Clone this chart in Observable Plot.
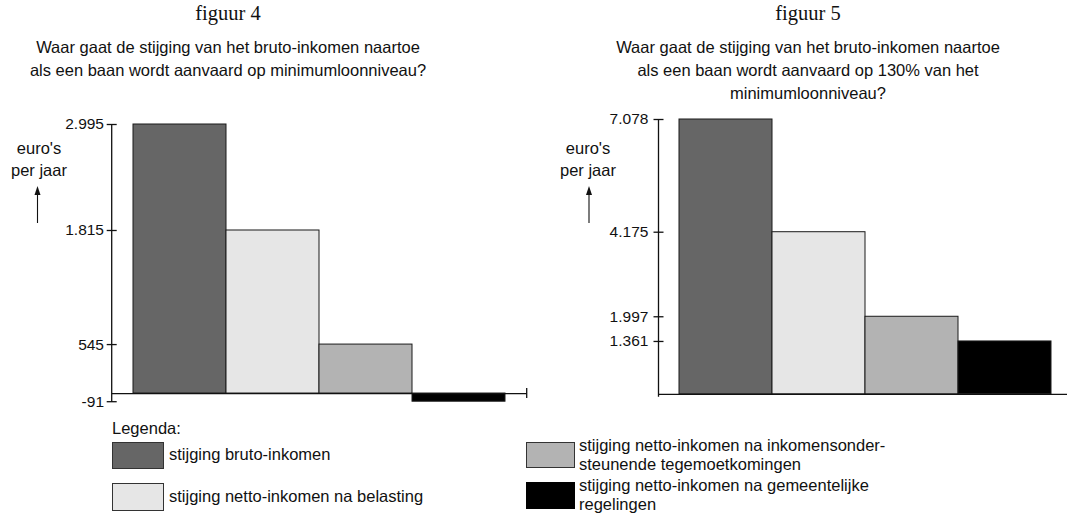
<!DOCTYPE html>
<html><head><meta charset="utf-8">
<script src="https://cdn.jsdelivr.net/npm/d3@7"></script>
<script src="https://cdn.jsdelivr.net/npm/@observablehq/plot@0.6"></script>
<style>
html,body{margin:0;padding:0;background:#fff;}
#root{position:relative;width:1067px;height:515px;overflow:hidden;font-family:"Liberation Sans",Arial,sans-serif;color:#111;}
.title{position:absolute;font-family:"Liberation Serif","Times New Roman",serif;font-size:20.5px;line-height:24px;text-align:center;width:440px;}
.sub{position:absolute;font-size:16.5px;line-height:23px;text-align:center;width:500px;}
.unit{position:absolute;font-size:16.5px;line-height:22.4px;text-align:center;width:90px;}
.sw{position:absolute;box-sizing:border-box;border:1px solid #333;}
.lt{position:absolute;font-size:16.5px;line-height:20px;white-space:nowrap;}
.chart{position:absolute;}
</style></head><body><div id="root"></div>
<script>
// ---- data ----
const categories = [
  "stijging bruto-inkomen",
  "stijging netto-inkomen na belasting",
  "stijging netto-inkomen na inkomensondersteunende tegemoetkomingen",
  "stijging netto-inkomen na gemeentelijke regelingen"
];
const fig4Values = [2995, 1815, 545, -91];
const fig5Values = [7078, 4175, 1997, 1361];
const fig4Ticks = [2995, 1815, 545, -91];
const fig5Ticks = [7078, 4175, 1997, 1361];
const barColors = ["#666666", "#e6e6e6", "#b3b3b3", "#000000"];
const legendLines = [
  ["stijging bruto-inkomen"],
  ["stijging netto-inkomen na belasting"],
  ["stijging netto-inkomen na inkomensonder-", "steunende tegemoetkomingen"],
  ["stijging netto-inkomen na gemeentelijke", "regelingen"]
];
const fig4Title = "figuur 4";
const fig5Title = "figuur 5";
const fig4Sub = ["Waar gaat de stijging van het bruto-inkomen naartoe", "als een baan wordt aanvaard op minimumloonniveau?"];
const fig5Sub = ["Waar gaat de stijging van het bruto-inkomen naartoe", "als een baan wordt aanvaard op 130% van het", "minimumloonniveau?"];
const unitLines = ["euro's", "per jaar"];

// ---- helpers ----
const root = document.getElementById("root");
const fmt = d3.formatLocale({decimal: ",", thousands: ".", grouping: [3], currency: ["€", ""], minus: "-"}).format(",d");

function el(cls, style, html) {
  const d = document.createElement("div");
  d.className = cls;
  Object.assign(d.style, style);
  if (html != null) d.innerHTML = html;
  root.appendChild(d);
  return d;
}

function decor(opts) {
  return (index, scales, values, dims) => {
    const g = d3.create("svg:g").attr("stroke", "#111").attr("fill", "none");
    const x0 = dims.marginLeft, x1 = dims.width - dims.marginRight;
    const y0 = scales.y(0);
    g.append("line").attr("stroke-width", 1.3)
      .attr("x1", x0).attr("x2", x0)
      .attr("y1", scales.y(opts.top)).attr("y2", scales.y(opts.bottom) + opts.extra);
    if (opts.endTick) g.append("line").attr("stroke-width", 1.3)
      .attr("x1", x1).attr("x2", x1).attr("y1", y0 - 5).attr("y2", y0 + 5);
    // unit arrow
    g.append("line").attr("stroke-width", 1.1)
      .attr("x1", opts.arrowX).attr("x2", opts.arrowX).attr("y1", 123).attr("y2", 92);
    g.append("path").attr("fill", "#111").attr("stroke", "none")
      .attr("d", `M${opts.arrowX},86 L${opts.arrowX - 3},95 L${opts.arrowX + 3},95 Z`);
    return g.node();
  };
}

function chart(values, ticks, o) {
  const data = categories.map((c, i) => ({cat: c, value: values[i]}));
  return Plot.plot({
    width: o.width,
    height: 315,
    marginLeft: o.marginLeft,
    marginRight: o.marginRight,
    marginTop: 0,
    marginBottom: 0,
    style: {fontFamily: '"Liberation Sans", Arial, sans-serif', fontSize: "15.5px", color: "#111", background: "transparent", overflow: "visible"},
    x: {type: "band", domain: categories, range: o.xRange, padding: 0, axis: null},
    y: {domain: o.yDomain, range: o.yRange, axis: null},
    color: {domain: categories, range: barColors},
    marks: [
      Plot.barY(data, {x: "cat", y: "value", fill: "cat", stroke: "#1a1a1a", strokeWidth: 1}),
      Plot.ruleY([0], {stroke: "#111", strokeWidth: 1.3}),
      Plot.axisY(ticks, {tickSize: 10, dx: 5, tickPadding: o.tickPadding, tickFormat: fmt, strokeWidth: 1.3, label: null}),
      decor(o.decor)
    ]
  });
}

// ---- titles ----
el("title", {left: "8px", top: "1px"}, fig4Title);
el("title", {left: "588px", top: "1px"}, fig5Title);
el("sub", {left: "-22px", top: "36px"}, fig4Sub.join("<br>"));
el("sub", {left: "558px", top: "36px"}, fig5Sub.join("<br>"));
el("unit", {left: "-6px", top: "136.7px"}, unitLines.join("<br>"));
el("unit", {left: "543px", top: "136.7px"}, unitLines.join("<br>"));

// ---- charts ----
const c4 = chart(fig4Values, fig4Ticks, {
  width: 540, marginLeft: 111.7, marginRight: 13.3,
  xRange: [132.3, 506], yDomain: [-91, 2995], yRange: [301.2, 24], tickPadding: 3.2,
  decor: {top: 2995, bottom: -91, extra: 0.5, endTick: true, arrowX: 37.5}
});
el("chart", {left: "0px", top: "100px"}).appendChild(c4);

const c5 = chart(fig5Values, fig5Ticks, {
  width: 527, marginLeft: 118.5, marginRight: 0,
  xRange: [138, 511.7], yDomain: [0, 7078], yRange: [293.8, 19], tickPadding: 5.6,
  decor: {top: 7078, bottom: 0, extra: 3, endTick: false, arrowX: 49}
});
el("chart", {left: "540px", top: "100px"}).appendChild(c5);

// ---- legend ----
el("lt", {left: "112px", top: "417.6px"}, "Legenda:");
const swatches = [
  {left: 112, top: 442.3, w: 52, h: 27, tx: 169, lines: [444.4]},
  {left: 112, top: 483.3, w: 52, h: 27.4, tx: 169, lines: [485.6]},
  {left: 525.5, top: 441.5, w: 49, h: 26.5, tx: 579, lines: [435.2, 454.4]},
  {left: 525.5, top: 482, w: 49, h: 27, tx: 579, lines: [475.2, 494]}
];
swatches.forEach((s, i) => {
  el("sw", {left: s.left + "px", top: s.top + "px", width: s.w + "px", height: s.h + "px", background: barColors[i], borderColor: i === 3 ? "#000" : "#333"});
  legendLines[i].forEach((t, j) => el("lt", {left: s.tx + "px", top: s.lines[j] + "px"}, t));
});
</script></body></html>
